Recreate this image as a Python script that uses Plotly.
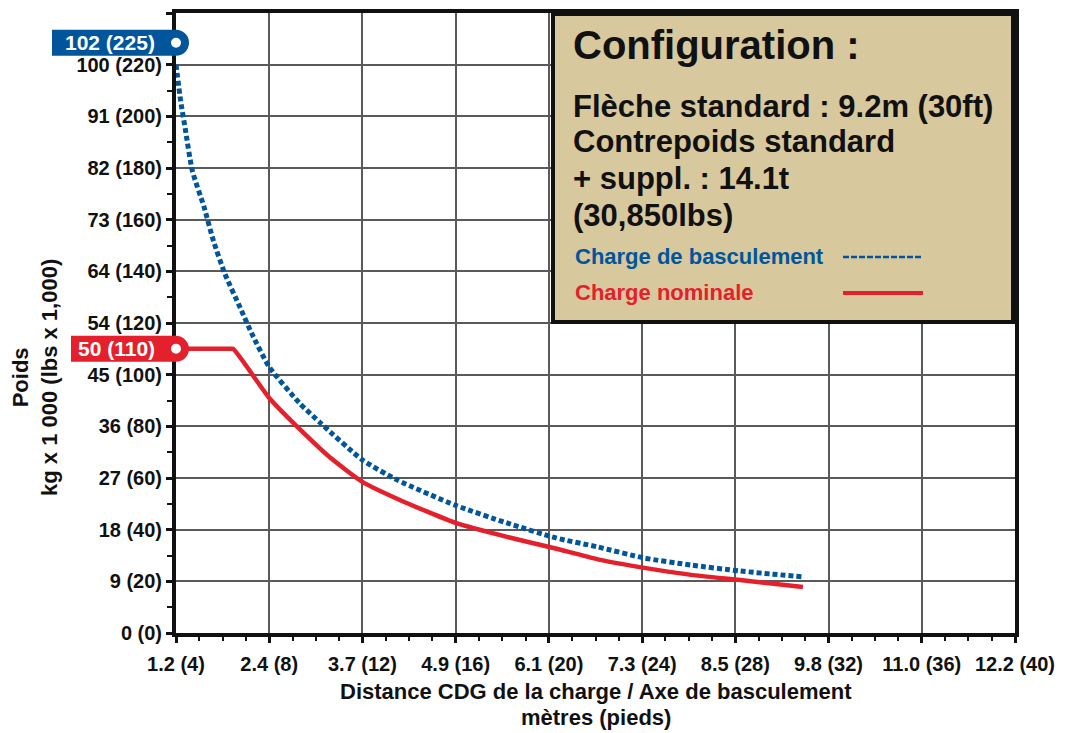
import plotly.graph_objects as go

# ---------------- data (distance in ft, load in lbs x 1,000) ----------------
tip_ft = [4.0, 4.2, 4.4, 4.7, 5.2, 5.6, 6.1, 6.75, 7.3, 8.0, 9.3, 10.2, 12.0,
          13.5, 16.0, 18.2, 20.3, 22.1, 24.1, 26.1, 28.2, 30.9]
tip_klbs = [220, 206, 195, 179, 165, 152, 139, 126, 115, 103, 89, 81.3, 67,
            59.2, 49.4, 42.6, 36.8, 33.3, 29, 26.3, 24, 21.7]

rated_ft = [4.0, 6.3, 6.45, 8.0, 9.3, 10.6, 12.0, 13.6, 16.0, 18.2, 20.2, 22.1,
            24.1, 26.1, 28.2, 30.9]
rated_klbs = [110, 110, 110, 91, 79, 68, 58.5, 51.5, 42.6, 37.2, 32.9, 28.5,
              25.2, 22.5, 20.5, 17.8]

x_tickvals = [4, 8, 12, 16, 20, 24, 28, 32, 36, 40]
x_ticktext = ["1.2 (4)", "2.4 (8)", "3.7 (12)", "4.9 (16)", "6.1 (20)", "7.3 (24)",
              "8.5 (28)", "9.8 (32)", "11.0 (36)", "12.2 (40)"]
y_tickvals = [0, 20, 40, 60, 80, 100, 120, 140, 160, 180, 200, 220, 240]
y_ticktext = ["0 (0)", "9 (20)", "18 (40)", "27 (60)", "36 (80)", "45 (100)", "54 (120)",
              "64 (140)", "73 (160)", "82 (180)", "91 (200)", "100 (220)", "109 (240)"]

callout_values = [225, 110]
callout_labels = ["102 (225)", "50 (110)"]

config_lines = ["Flèche standard : 9.2m (30ft)", "Contrepoids standard",
                "+ suppl. : 14.1t", "(30,850lbs)"]
series_names = ["Charge de basculement", "Charge nominale"]
x_title_lines = ["Distance CDG de la charge / Axe de basculement", "mètres (pieds)"]

# ---------------- styles ----------------
BLUE = "#00559b"
RED = "#e5202d"
INK = "#111111"
GRID = "#5a5a5a"
TAN = "#d8c89e"
FONT = "Liberation Sans"

fig = go.Figure()
fig.add_trace(go.Scatter(x=tip_ft, y=tip_klbs, mode="lines", name=series_names[0],
                         line=dict(color=BLUE, width=5, dash="5px,3px",
                                   shape="spline", smoothing=0.6),
                         hoverinfo="skip"))
fig.add_trace(go.Scatter(x=rated_ft, y=rated_klbs, mode="lines", name=series_names[1],
                         line=dict(color=RED, width=4.5, shape="spline", smoothing=0.5),
                         hoverinfo="skip"))

shapes = []
annotations = []

# callouts on the y axis
callout_cfg = [
    dict(color=BLUE, left=-124, shift=9),
    dict(color=RED, left=-105, shift=0),
]
for val, lab, c in zip(callout_values, callout_labels, callout_cfg):
    shapes.append(dict(type="rect", xref="paper", yref="y", xsizemode="pixel",
                       ysizemode="pixel", xanchor=0, yanchor=val,
                       x0=c["left"], x1=0, y0=-13 + c["shift"], y1=13 + c["shift"],
                       fillcolor=c["color"], line=dict(width=0), layer="above"))
    shapes.append(dict(type="circle", xref="paper", yref="y", xsizemode="pixel",
                       ysizemode="pixel", xanchor=0, yanchor=val,
                       x0=-13, x1=13, y0=-13 + c["shift"], y1=13 + c["shift"],
                       fillcolor=c["color"], line=dict(width=0), layer="above"))
    shapes.append(dict(type="circle", xref="paper", yref="y", xsizemode="pixel",
                       ysizemode="pixel", xanchor=0, yanchor=val,
                       x0=-5, x1=5, y0=-5 + c["shift"], y1=5 + c["shift"],
                       fillcolor="white", line=dict(width=0), layer="above"))
    annotations.append(dict(xref="paper", yref="y", x=0, y=val, xanchor="right",
                            yanchor="middle", xshift=-19, yshift=c["shift"],
                            text="<b>%s</b>" % lab, showarrow=False,
                            font=dict(family=FONT, size=21, color="white")))

# configuration box (positions expressed relative to the plot area)
PW, PH = 839.0, 620.0
def px_x(p):
    return (p - 176) / PW
def px_y(p):
    return (633 - p) / PH

shapes.append(dict(type="rect", xref="paper", yref="paper", x0=px_x(553), x1=px_x(1013),
                   y0=px_y(322), y1=px_y(14), fillcolor=TAN,
                   line=dict(color=INK, width=4), layer="above"))
annotations.append(dict(xref="paper", yref="paper", x=px_x(571), y=px_y(45),
                        xanchor="left", yanchor="middle", showarrow=False,
                        text="<b>Configuration :</b>",
                        font=dict(family=FONT, size=40, color=INK)))
for line, yc in zip(config_lines, [106, 142, 179, 215]):
    annotations.append(dict(xref="paper", yref="paper", x=px_x(571), y=px_y(yc),
                            xanchor="left", yanchor="middle", showarrow=False,
                            text="<b>%s</b>" % line,
                            font=dict(family=FONT, size=31, color=INK)))
for name, col, yc in zip(series_names, [BLUE, RED], [256, 292]):
    annotations.append(dict(xref="paper", yref="paper", x=px_x(573), y=px_y(yc),
                            xanchor="left", yanchor="middle", showarrow=False,
                            text="<b>%s</b>" % name,
                            font=dict(family=FONT, size=22, color=col)))
shapes.append(dict(type="line", xref="paper", yref="paper", x0=px_x(843), x1=px_x(922),
                   y0=px_y(257), y1=px_y(257), line=dict(color=BLUE, width=2.5, dash="6px,2px"),
                   layer="above"))
shapes.append(dict(type="line", xref="paper", yref="paper", x0=px_x(843), x1=px_x(923),
                   y0=px_y(293), y1=px_y(293), line=dict(color=RED, width=4), layer="above"))

# axis titles
annotations.append(dict(xref="paper", yref="paper", x=px_x(35), y=px_y(378),
                        xanchor="center", yanchor="middle", textangle=-90, showarrow=False,
                        borderpad=0,
                        text="<b>Poids<br>kg x 1 000 (lbs x 1,000)</b>",
                        font=dict(family=FONT, size=22, color=INK)))
for line, yc in zip(x_title_lines, [691, 717]):
    annotations.append(dict(xref="paper", yref="paper", x=0.5, y=px_y(yc),
                            xanchor="center", yanchor="middle", showarrow=False,
                            borderpad=0, text="<b>%s</b>" % line,
                            font=dict(family=FONT, size=22, color=INK)))

axis_common = dict(showline=True, linecolor=INK, linewidth=4, mirror=True,
                   showgrid=True, gridcolor=GRID, gridwidth=2, zeroline=False,
                   automargin=False,
                   ticks="outside", tickcolor=INK, tickwidth=3, ticklen=6,
                   tickfont=dict(family=FONT, size=20, color=INK, weight="bold"))

# page body has an 8px margin: the plot area is placed to match the reference
fig.update_layout(
    width=1049, height=725,
    margin=dict(l=168, r=42, t=5, b=100),
    plot_bgcolor="white", paper_bgcolor="white",
    showlegend=False,
    shapes=shapes, annotations=annotations,
    xaxis=dict(range=[4, 40], tickmode="array", tickvals=x_tickvals, ticktext=x_ticktext,
               ticklabelstandoff=4,
               minor=dict(tickmode="linear", tick0=0, dtick=1, ticks="outside", ticklen=4,
                          tickwidth=1.5, tickcolor=INK, showgrid=False),
               **axis_common),
    yaxis=dict(range=[0, 240], tickmode="array", tickvals=y_tickvals, ticktext=y_ticktext,
               minor=dict(tickmode="linear", tick0=0, dtick=10, ticks="outside", ticklen=5,
                          tickwidth=1.5, tickcolor=INK, showgrid=False),
               **axis_common),
)

fig.write_html("out.html")
